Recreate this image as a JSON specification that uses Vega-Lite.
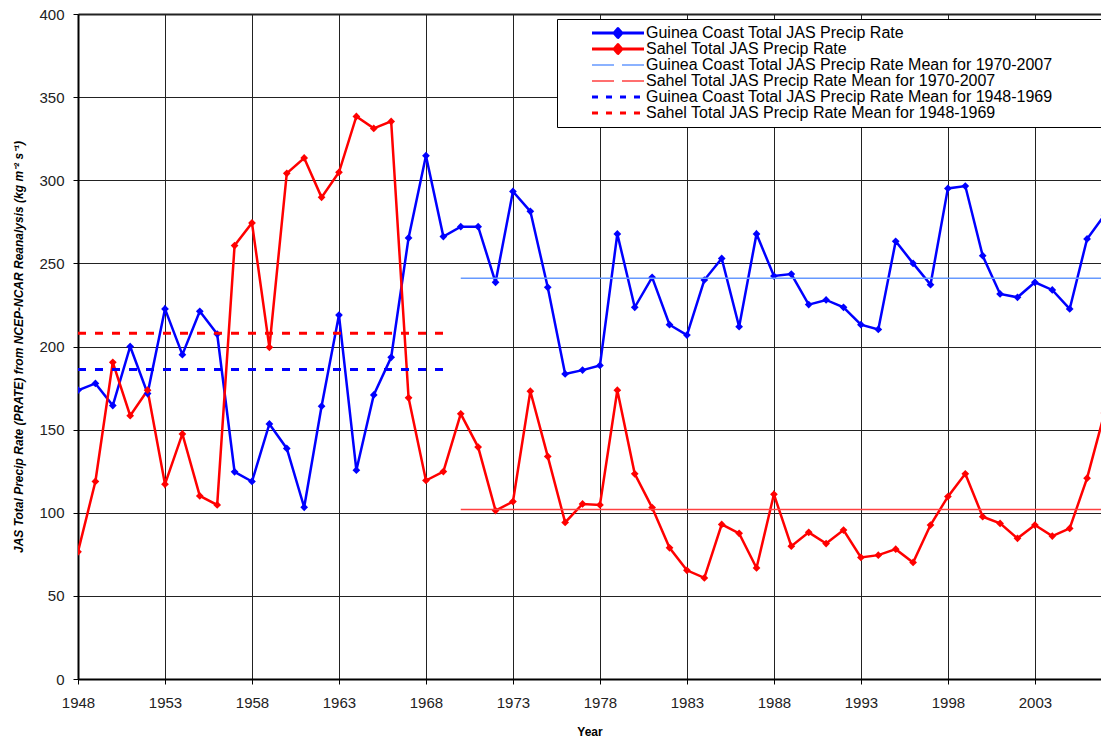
{
  "$schema": "https://vega.github.io/schema/vega-lite/v6.json",
  "width": 1023,
  "height": 665,
  "autosize": "none",
  "padding": {"left": 78, "top": 14, "right": 0, "bottom": 61},
  "background": "white",
  "config": {
    "view": {"stroke": null},
    "font": "Liberation Sans",
    "axis": {
      "grid": true,
      "gridColor": "#222222",
      "gridWidth": 1,
      "gridOpacity": 1,
      "domainColor": "#000000",
      "domainWidth": 2,
      "tickColor": "#000000",
      "tickWidth": 1,
      "tickSize": 5,
      "labelFont": "Liberation Sans",
      "labelFontSize": 15,
      "labelColor": "#222222",
      "labelFlush": false,
      "titleFont": "Liberation Sans",
      "titleFontSize": 12,
      "titleFontWeight": "bold",
      "titleColor": "#000000"
    },
    "legend": {
      "orient": "none",
      "legendX": 479,
      "legendY": 5,
      "labelFont": "Liberation Sans",
      "labelFontSize": 16,
      "labelColor": "#000000",
      "labelLimit": 1000,
      "labelOffset": 20,
      "symbolType": "stroke",
      "symbolSize": 2704,
      "symbolOffset": 47,
      "rowPadding": -1,
      "strokeColor": "#000000",
      "fillColor": "#ffffff",
      "padding": 6
    }
  },
  "datasets": {
    "series": [
      {"year": 1948, "series": "Guinea Coast Total JAS Precip Rate", "rate": 173.7},
      {"year": 1949, "series": "Guinea Coast Total JAS Precip Rate", "rate": 177.8},
      {"year": 1950, "series": "Guinea Coast Total JAS Precip Rate", "rate": 164.5},
      {"year": 1951, "series": "Guinea Coast Total JAS Precip Rate", "rate": 200.0},
      {"year": 1952, "series": "Guinea Coast Total JAS Precip Rate", "rate": 171.7},
      {"year": 1953, "series": "Guinea Coast Total JAS Precip Rate", "rate": 222.6},
      {"year": 1954, "series": "Guinea Coast Total JAS Precip Rate", "rate": 195.1},
      {"year": 1955, "series": "Guinea Coast Total JAS Precip Rate", "rate": 221.2},
      {"year": 1956, "series": "Guinea Coast Total JAS Precip Rate", "rate": 207.5},
      {"year": 1957, "series": "Guinea Coast Total JAS Precip Rate", "rate": 124.6},
      {"year": 1958, "series": "Guinea Coast Total JAS Precip Rate", "rate": 118.8},
      {"year": 1959, "series": "Guinea Coast Total JAS Precip Rate", "rate": 153.4},
      {"year": 1960, "series": "Guinea Coast Total JAS Precip Rate", "rate": 138.7},
      {"year": 1961, "series": "Guinea Coast Total JAS Precip Rate", "rate": 103.3},
      {"year": 1962, "series": "Guinea Coast Total JAS Precip Rate", "rate": 164.1},
      {"year": 1963, "series": "Guinea Coast Total JAS Precip Rate", "rate": 218.9},
      {"year": 1964, "series": "Guinea Coast Total JAS Precip Rate", "rate": 125.6},
      {"year": 1965, "series": "Guinea Coast Total JAS Precip Rate", "rate": 170.9},
      {"year": 1966, "series": "Guinea Coast Total JAS Precip Rate", "rate": 193.5},
      {"year": 1967, "series": "Guinea Coast Total JAS Precip Rate", "rate": 265.3},
      {"year": 1968, "series": "Guinea Coast Total JAS Precip Rate", "rate": 314.8},
      {"year": 1969, "series": "Guinea Coast Total JAS Precip Rate", "rate": 266.1},
      {"year": 1970, "series": "Guinea Coast Total JAS Precip Rate", "rate": 272.1},
      {"year": 1971, "series": "Guinea Coast Total JAS Precip Rate", "rate": 272.1},
      {"year": 1972, "series": "Guinea Coast Total JAS Precip Rate", "rate": 238.6},
      {"year": 1973, "series": "Guinea Coast Total JAS Precip Rate", "rate": 293.3},
      {"year": 1974, "series": "Guinea Coast Total JAS Precip Rate", "rate": 281.3},
      {"year": 1975, "series": "Guinea Coast Total JAS Precip Rate", "rate": 235.6},
      {"year": 1976, "series": "Guinea Coast Total JAS Precip Rate", "rate": 183.5},
      {"year": 1977, "series": "Guinea Coast Total JAS Precip Rate", "rate": 185.8},
      {"year": 1978, "series": "Guinea Coast Total JAS Precip Rate", "rate": 188.6},
      {"year": 1979, "series": "Guinea Coast Total JAS Precip Rate", "rate": 267.7},
      {"year": 1980, "series": "Guinea Coast Total JAS Precip Rate", "rate": 223.6},
      {"year": 1981, "series": "Guinea Coast Total JAS Precip Rate", "rate": 241.6},
      {"year": 1982, "series": "Guinea Coast Total JAS Precip Rate", "rate": 213.1},
      {"year": 1983, "series": "Guinea Coast Total JAS Precip Rate", "rate": 206.9},
      {"year": 1984, "series": "Guinea Coast Total JAS Precip Rate", "rate": 240.0},
      {"year": 1985, "series": "Guinea Coast Total JAS Precip Rate", "rate": 253.0},
      {"year": 1986, "series": "Guinea Coast Total JAS Precip Rate", "rate": 211.9},
      {"year": 1987, "series": "Guinea Coast Total JAS Precip Rate", "rate": 267.7},
      {"year": 1988, "series": "Guinea Coast Total JAS Precip Rate", "rate": 242.4},
      {"year": 1989, "series": "Guinea Coast Total JAS Precip Rate", "rate": 243.6},
      {"year": 1990, "series": "Guinea Coast Total JAS Precip Rate", "rate": 225.2},
      {"year": 1991, "series": "Guinea Coast Total JAS Precip Rate", "rate": 228.0},
      {"year": 1992, "series": "Guinea Coast Total JAS Precip Rate", "rate": 223.6},
      {"year": 1993, "series": "Guinea Coast Total JAS Precip Rate", "rate": 213.1},
      {"year": 1994, "series": "Guinea Coast Total JAS Precip Rate", "rate": 210.3},
      {"year": 1995, "series": "Guinea Coast Total JAS Precip Rate", "rate": 263.3},
      {"year": 1996, "series": "Guinea Coast Total JAS Precip Rate", "rate": 250.0},
      {"year": 1997, "series": "Guinea Coast Total JAS Precip Rate", "rate": 237.2},
      {"year": 1998, "series": "Guinea Coast Total JAS Precip Rate", "rate": 295.1},
      {"year": 1999, "series": "Guinea Coast Total JAS Precip Rate", "rate": 296.5},
      {"year": 2000, "series": "Guinea Coast Total JAS Precip Rate", "rate": 254.6},
      {"year": 2001, "series": "Guinea Coast Total JAS Precip Rate", "rate": 231.6},
      {"year": 2002, "series": "Guinea Coast Total JAS Precip Rate", "rate": 229.6},
      {"year": 2003, "series": "Guinea Coast Total JAS Precip Rate", "rate": 238.6},
      {"year": 2004, "series": "Guinea Coast Total JAS Precip Rate", "rate": 234.0},
      {"year": 2005, "series": "Guinea Coast Total JAS Precip Rate", "rate": 222.6},
      {"year": 2006, "series": "Guinea Coast Total JAS Precip Rate", "rate": 264.7},
      {"year": 2007, "series": "Guinea Coast Total JAS Precip Rate", "rate": 279.0},
      {"year": 1948, "series": "Sahel Total JAS Precip Rate", "rate": 76.5},
      {"year": 1949, "series": "Sahel Total JAS Precip Rate", "rate": 118.8},
      {"year": 1950, "series": "Sahel Total JAS Precip Rate", "rate": 190.5},
      {"year": 1951, "series": "Sahel Total JAS Precip Rate", "rate": 158.4},
      {"year": 1952, "series": "Sahel Total JAS Precip Rate", "rate": 173.7},
      {"year": 1953, "series": "Sahel Total JAS Precip Rate", "rate": 117.2},
      {"year": 1954, "series": "Sahel Total JAS Precip Rate", "rate": 147.4},
      {"year": 1955, "series": "Sahel Total JAS Precip Rate", "rate": 110.1},
      {"year": 1956, "series": "Sahel Total JAS Precip Rate", "rate": 104.7},
      {"year": 1957, "series": "Sahel Total JAS Precip Rate", "rate": 260.7},
      {"year": 1958, "series": "Sahel Total JAS Precip Rate", "rate": 274.3},
      {"year": 1959, "series": "Sahel Total JAS Precip Rate", "rate": 199.5},
      {"year": 1960, "series": "Sahel Total JAS Precip Rate", "rate": 304.2},
      {"year": 1961, "series": "Sahel Total JAS Precip Rate", "rate": 313.4},
      {"year": 1962, "series": "Sahel Total JAS Precip Rate", "rate": 289.7},
      {"year": 1963, "series": "Sahel Total JAS Precip Rate", "rate": 304.8},
      {"year": 1964, "series": "Sahel Total JAS Precip Rate", "rate": 338.4},
      {"year": 1965, "series": "Sahel Total JAS Precip Rate", "rate": 331.2},
      {"year": 1966, "series": "Sahel Total JAS Precip Rate", "rate": 335.4},
      {"year": 1967, "series": "Sahel Total JAS Precip Rate", "rate": 169.1},
      {"year": 1968, "series": "Sahel Total JAS Precip Rate", "rate": 119.4},
      {"year": 1969, "series": "Sahel Total JAS Precip Rate", "rate": 124.8},
      {"year": 1970, "series": "Sahel Total JAS Precip Rate", "rate": 159.5},
      {"year": 1971, "series": "Sahel Total JAS Precip Rate", "rate": 139.5},
      {"year": 1972, "series": "Sahel Total JAS Precip Rate", "rate": 101.3},
      {"year": 1973, "series": "Sahel Total JAS Precip Rate", "rate": 106.7},
      {"year": 1974, "series": "Sahel Total JAS Precip Rate", "rate": 173.1},
      {"year": 1975, "series": "Sahel Total JAS Precip Rate", "rate": 133.9},
      {"year": 1976, "series": "Sahel Total JAS Precip Rate", "rate": 94.2},
      {"year": 1977, "series": "Sahel Total JAS Precip Rate", "rate": 105.3},
      {"year": 1978, "series": "Sahel Total JAS Precip Rate", "rate": 104.7},
      {"year": 1979, "series": "Sahel Total JAS Precip Rate", "rate": 173.7},
      {"year": 1980, "series": "Sahel Total JAS Precip Rate", "rate": 123.4},
      {"year": 1981, "series": "Sahel Total JAS Precip Rate", "rate": 103.1},
      {"year": 1982, "series": "Sahel Total JAS Precip Rate", "rate": 78.9},
      {"year": 1983, "series": "Sahel Total JAS Precip Rate", "rate": 65.4},
      {"year": 1984, "series": "Sahel Total JAS Precip Rate", "rate": 60.8},
      {"year": 1985, "series": "Sahel Total JAS Precip Rate", "rate": 93.0},
      {"year": 1986, "series": "Sahel Total JAS Precip Rate", "rate": 87.6},
      {"year": 1987, "series": "Sahel Total JAS Precip Rate", "rate": 66.8},
      {"year": 1988, "series": "Sahel Total JAS Precip Rate", "rate": 111.1},
      {"year": 1989, "series": "Sahel Total JAS Precip Rate", "rate": 79.9},
      {"year": 1990, "series": "Sahel Total JAS Precip Rate", "rate": 88.2},
      {"year": 1991, "series": "Sahel Total JAS Precip Rate", "rate": 81.5},
      {"year": 1992, "series": "Sahel Total JAS Precip Rate", "rate": 89.6},
      {"year": 1993, "series": "Sahel Total JAS Precip Rate", "rate": 73.1},
      {"year": 1994, "series": "Sahel Total JAS Precip Rate", "rate": 74.5},
      {"year": 1995, "series": "Sahel Total JAS Precip Rate", "rate": 78.1},
      {"year": 1996, "series": "Sahel Total JAS Precip Rate", "rate": 70.1},
      {"year": 1997, "series": "Sahel Total JAS Precip Rate", "rate": 92.6},
      {"year": 1998, "series": "Sahel Total JAS Precip Rate", "rate": 109.7},
      {"year": 1999, "series": "Sahel Total JAS Precip Rate", "rate": 123.4},
      {"year": 2000, "series": "Sahel Total JAS Precip Rate", "rate": 97.6},
      {"year": 2001, "series": "Sahel Total JAS Precip Rate", "rate": 93.6},
      {"year": 2002, "series": "Sahel Total JAS Precip Rate", "rate": 84.6},
      {"year": 2003, "series": "Sahel Total JAS Precip Rate", "rate": 92.6},
      {"year": 2004, "series": "Sahel Total JAS Precip Rate", "rate": 86.0},
      {"year": 2005, "series": "Sahel Total JAS Precip Rate", "rate": 90.6},
      {"year": 2006, "series": "Sahel Total JAS Precip Rate", "rate": 120.8},
      {"year": 2007, "series": "Sahel Total JAS Precip Rate", "rate": 160.0}
    ],
    "means": [
      {"series": "Guinea Coast Total JAS Precip Rate Mean for 1970-2007", "start": 1970, "end": 2007, "rate": 241.0},
      {"series": "Sahel Total JAS Precip Rate Mean for 1970-2007", "start": 1970, "end": 2007, "rate": 102.0},
      {"series": "Guinea Coast Total JAS Precip Rate Mean for 1948-1969", "start": 1948, "end": 1969, "rate": 186.2},
      {"series": "Sahel Total JAS Precip Rate Mean for 1948-1969", "start": 1948, "end": 1969, "rate": 208.0}
    ]
  },
  "layer": [
    {
      "data": {"name": "series"},
      "mark": {
        "type": "line",
        "strokeWidth": 2.5,
        "clip": true,
        "point": {"shape": "diamond", "size": 60, "filled": true, "opacity": 1}
      },
      "encoding": {
        "x": {
          "field": "year",
          "type": "quantitative",
          "scale": {"domain": [1948, 2006.8], "nice": false, "zero": false},
          "axis": {
            "title": "Year",
            "values": [1948, 1953, 1958, 1963, 1968, 1973, 1978, 1983, 1988, 1993, 1998, 2003],
            "format": "d",
            "labelPadding": 11,
            "titlePadding": 16
          }
        },
        "y": {
          "field": "rate",
          "type": "quantitative",
          "scale": {"domain": [0, 400], "nice": false},
          "axis": {
            "title": "JAS Total Precip Rate (PRATE) from NCEP-NCAR Reanalysis (kg m⁻² s⁻¹)",
            "titleFontStyle": "italic",
            "values": [0, 50, 100, 150, 200, 250, 300, 350, 400],
            "labelPadding": 9,
            "titlePadding": 13,
            "gridWidth": {"condition": {"test": "datum.value == 400", "value": 2}, "value": 1}
          }
        },
        "color": {
          "field": "series",
          "type": "nominal",
          "scale": {
            "domain": [
              "Guinea Coast Total JAS Precip Rate",
              "Sahel Total JAS Precip Rate",
              "Guinea Coast Total JAS Precip Rate Mean for 1970-2007",
              "Sahel Total JAS Precip Rate Mean for 1970-2007",
              "Guinea Coast Total JAS Precip Rate Mean for 1948-1969",
              "Sahel Total JAS Precip Rate Mean for 1948-1969"
            ],
            "range": ["#0000ff", "#ff0000", "#6699ff", "#ff4040", "#0000ff", "#ff0000"]
          },
          "legend": {
            "title": null,
            "labelExpr": "datum.label + '\u2800\u2800\u2800\u2800'",
            "encode": {
              "symbols": {
                "update": {
                  "shape": {"signal": "test(/Mean/, datum.value) ? 'stroke' : 'M-1,0H1M-0.15,0L0,-0.17L0.15,0L0,0.17Z'"},
                  "fill": {"signal": "test(/Mean/, datum.value) ? 'transparent' : scale('color', datum.value)"},
                  "strokeWidth": {"signal": "test(/1970/, datum.value) ? 1.5 : 3"},
                  "strokeDash": {"signal": "test(/1970/, datum.value) ? [22, 8] : test(/1948/, datum.value) ? [6, 8] : [1, 0]"},
                  "strokeJoin": {"value": "round"},
                  "opacity": {"value": 1}
                }
              }
            }
          }
        }
      }
    },
    {
      "data": {"name": "means"},
      "transform": [{"filter": "datum.start == 1970"}],
      "mark": {"type": "rule", "strokeWidth": 1.5, "clip": true},
      "encoding": {
        "x": {"field": "start", "type": "quantitative"},
        "x2": {"field": "end"},
        "y": {"field": "rate", "type": "quantitative"},
        "color": {"field": "series", "type": "nominal"}
      }
    },
    {
      "data": {"name": "means"},
      "transform": [{"filter": "datum.start == 1948"}],
      "mark": {"type": "rule", "strokeWidth": 3, "strokeDash": [8, 9], "clip": true},
      "encoding": {
        "x": {"field": "start", "type": "quantitative"},
        "x2": {"field": "end"},
        "y": {"field": "rate", "type": "quantitative"},
        "color": {"field": "series", "type": "nominal"}
      }
    }
  ]
}
